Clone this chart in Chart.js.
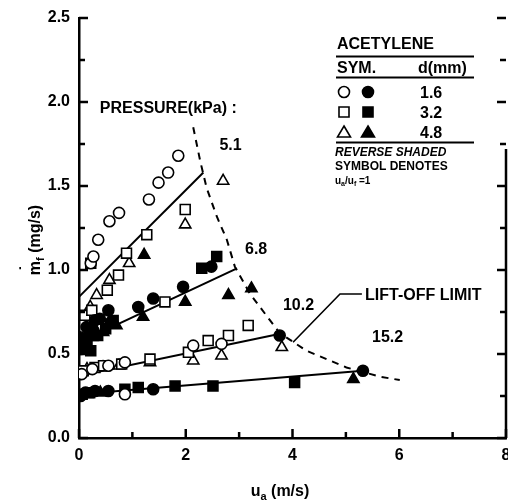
<!DOCTYPE html>
<html>
<head>
<meta charset="utf-8">
<script src="https://cdn.jsdelivr.net/npm/chart.js@4/dist/chart.umd.min.js"></script>
<style>
  html, body { margin: 0; padding: 0; background: #fff; }
  canvas { display: block; }
</style>
</head>
<body>
<canvas id="grafico" width="508" height="503"></canvas>
<script>
// ---------------------------------------------------------
// Dados (u_a em m/s, m_f em mg/s)
// ---------------------------------------------------------
const xTicks = [0, 2, 4, 6, 8];
const yTicks = [0.0, 0.5, 1.0, 1.5, 2.0, 2.5];

// d = 1.6 mm
const openCircles = [
  [0.22, 1.04], [0.27, 1.08], [0.36, 1.18], [0.57, 1.29], [0.75, 1.34],
  [1.31, 1.42], [1.49, 1.52], [1.67, 1.58], [1.86, 1.68],
  [0.05, 0.38], [0.25, 0.41], [0.55, 0.43], [0.86, 0.45], [2.14, 0.55], [2.67, 0.56],
  [0.86, 0.26]
];
const filledCircles = [
  [0.04, 0.53], [0.10, 0.58], [0.20, 0.62], [0.27, 0.64], [0.39, 0.71], [0.55, 0.76],
  [0.60, 0.69], [0.02, 0.60], [0.14, 0.66], [0.30, 0.70],
  [1.11, 0.78], [1.39, 0.83], [1.95, 0.90], [2.48, 1.02],
  [3.76, 0.61],
  [0.03, 0.25], [0.12, 0.27], [0.30, 0.28], [0.55, 0.28], [1.39, 0.29], [5.32, 0.40]
];
// d = 3.2 mm
const openSquares = [
  [0.11, 0.73], [0.24, 0.76], [0.22, 1.04], [0.53, 0.88], [0.74, 0.97], [0.89, 1.10],
  [1.27, 1.21], [1.99, 1.36],
  [1.61, 0.81],
  [0.08, 0.40], [0.30, 0.42], [0.46, 0.43], [0.80, 0.44], [1.33, 0.47], [2.05, 0.51],
  [2.42, 0.58], [2.80, 0.61], [3.17, 0.67]
];
const filledSquares = [
  [0.05, 0.55], [0.15, 0.57], [0.35, 0.61], [0.50, 0.65], [0.64, 0.70], [0.22, 0.52],
  [2.30, 1.01], [2.58, 1.08],
  [0.06, 0.26], [0.20, 0.27], [0.86, 0.29], [1.11, 0.30], [1.80, 0.31], [2.51, 0.31], [4.04, 0.33]
];
// d = 4.8 mm
const openTriangles = [
  [0.17, 0.73], [0.21, 0.78], [0.33, 0.85], [0.57, 0.94], [0.94, 1.04], [1.99, 1.27], [2.70, 1.53],
  [0.15, 0.41], [0.45, 0.42], [0.75, 0.43], [1.33, 0.45], [2.14, 0.46], [2.67, 0.49], [3.80, 0.54]
];
const filledTriangles = [
  [1.22, 1.09],
  [0.08, 0.55], [0.25, 0.60], [0.45, 0.63], [0.70, 0.67], [1.20, 0.72], [1.99, 0.81],
  [2.80, 0.85], [3.23, 0.89],
  [0.15, 0.26], [0.40, 0.27], [5.14, 0.35]
];

// retas de ajuste por pressao (kPa)
const fit51 = [[0, 0.84], [2.33, 1.58]];
const fit68 = [[0, 0.57], [2.96, 1.01]];
const fit102 = [[0, 0.37], [3.77, 0.62]];
const fit152 = [[0, 0.26], [5.32, 0.40]];

// limite de descolamento (tracejado)
const liftOffLimit = [
  [2.14, 1.85], [2.27, 1.65], [2.39, 1.49], [2.58, 1.32], [2.77, 1.18], [2.92, 1.02],
  [3.20, 0.86], [3.58, 0.70], [3.76, 0.625], [4.26, 0.52], [5.01, 0.42], [5.64, 0.365], [6.01, 0.345]
];
const leaderLine = [[4.01, 0.57], [4.89, 0.857], [5.30, 0.857]];

// ---------------------------------------------------------
// Configuracao
// ---------------------------------------------------------
const FONT = '"Liberation Sans", Arial, sans-serif';
Chart.defaults.font.family = FONT;
Chart.defaults.color = '#000';

const toPts = arr => arr.map(([x, y]) => ({ x, y }));

function pontos(arr, style, radius, filled) {
  return {
    data: toPts(arr),
    pointStyle: style,
    pointRadius: radius,
    pointHoverRadius: radius,
    pointBorderWidth: 1.6,
    pointBackgroundColor: filled ? '#000' : '#fff',
    pointBorderColor: '#000',
    showLine: false
  };
}

function linha(arr, width, dash) {
  return {
    data: toPts(arr),
    showLine: true,
    pointRadius: 0,
    borderColor: '#000',
    borderWidth: width,
    borderDash: dash || [],
    fill: false
  };
}

// desenha um simbolo pequeno (legenda)
function simbolo(ctx, tipo, x, y, filled) {
  ctx.save();
  ctx.lineWidth = 1.6;
  ctx.strokeStyle = '#000';
  ctx.fillStyle = filled ? '#000' : '#fff';
  ctx.beginPath();
  if (tipo === 'circle') {
    ctx.arc(x, y, 5.5, 0, Math.PI * 2);
  } else if (tipo === 'rect') {
    ctx.rect(x - 5, y - 5, 10, 10);
  } else {
    ctx.moveTo(x, y - 6);
    ctx.lineTo(x + 6.5, y + 5);
    ctx.lineTo(x - 6.5, y + 5);
    ctx.closePath();
  }
  ctx.fill();
  ctx.stroke();
  ctx.restore();
}

// texto com partes em subscrito
function textoPartes(ctx, partes) {
  let w = 0;
  partes.forEach(p => {
    ctx.font = `bold ${p.size}px ${FONT}`;
    p.w = ctx.measureText(p.t).width;
    w += p.w;
  });
  return w;
}
function desenhaPartes(ctx, partes, x, y) {
  let cx = x;
  partes.forEach(p => {
    ctx.font = `${p.italic ? 'italic ' : ''}bold ${p.size}px ${FONT}`;
    ctx.fillText(p.t, cx, y + (p.dy || 0));
    if (p.dot) {
      ctx.fillText('\u02D9', cx + p.w / 2 - ctx.measureText('\u02D9').width / 2, y - 9);
    }
    cx += p.w;
  });
}

const decoracao = {
  id: 'decoracao',
  afterDraw(chart) {
    const { ctx, chartArea: a } = chart;
    const sx = chart.scales.x, sy = chart.scales.y;
    ctx.save();
    ctx.strokeStyle = '#000';
    ctx.fillStyle = '#000';

    // borda direita (parcial, como no original)
    ctx.lineWidth = 2.5;
    ctx.beginPath();
    ctx.moveTo(a.right, a.bottom);
    ctx.lineTo(a.right, sy.getPixelForValue(1.72));
    ctx.stroke();

    // marcas internas dos eixos
    ctx.lineWidth = 2.5;
    for (let v = 0; v <= 8; v += 1) {
      const px = sx.getPixelForValue(v);
      const len = v % 2 === 0 ? 9 : 6;
      ctx.beginPath();
      ctx.moveTo(px, a.bottom);
      ctx.lineTo(px, a.bottom - len);
      ctx.stroke();
    }
    for (let i = 0; i <= 10; i++) {
      const v = i * 0.25;
      const py = sy.getPixelForValue(v);
      const len = i % 2 === 0 ? 9 : 6;
      ctx.beginPath();
      ctx.moveTo(a.left, py);
      ctx.lineTo(a.left + len, py);
      ctx.moveTo(a.right, py);
      ctx.lineTo(a.right - len, py);
      ctx.stroke();
    }

    // rotulos de pressao
    ctx.textBaseline = 'middle';
    ctx.textAlign = 'left';
    ctx.font = `bold 16px ${FONT}`;
    const rotulos = [
      ['PRESSURE(kPa) :', 0.39, 1.96],
      ['5.1', 2.63, 1.74],
      ['6.8', 3.11, 1.12],
      ['10.2', 3.82, 0.79],
      ['15.2', 5.49, 0.60],
      ['LIFT-OFF LIMIT', 5.36, 0.845]
    ];
    rotulos.forEach(([t, x, y]) => {
      ctx.fillText(t, sx.getPixelForValue(x), sy.getPixelForValue(y));
    });

    // legenda
    ctx.textBaseline = 'alphabetic';
    ctx.font = `bold 16px ${FONT}`;
    ctx.fillText('ACETYLENE', 337, 49);
    ctx.fillText('SYM.', 337, 73);
    ctx.fillText('d(mm)', 418, 73);
    ctx.lineWidth = 2;
    [56.5, 77.5, 142.5].forEach(y => {
      ctx.beginPath();
      ctx.moveTo(336, y);
      ctx.lineTo(474, y);
      ctx.stroke();
    });
    const linhasLegenda = [['circle', '1.6', 92], ['rect', '3.2', 112], ['triangle', '4.8', 132]];
    linhasLegenda.forEach(([tipo, d, y]) => {
      simbolo(ctx, tipo, 344, y, false);
      simbolo(ctx, tipo, 368, y, true);
      ctx.font = `bold 16px ${FONT}`;
      ctx.fillText(d, 420, y + 6);
    });
    ctx.font = `italic bold 12px ${FONT}`;
    ctx.fillText('REVERSE SHADED', 335, 156);
    ctx.font = `bold 12px ${FONT}`;
    ctx.fillText('SYMBOL DENOTES', 335, 170);
    const razao = [
      { t: 'u', size: 10 }, { t: 'a', size: 7, dy: 2 },
      { t: '/u', size: 10 }, { t: 'f', size: 7, dy: 2 }, { t: ' =1', size: 10 }
    ];
    textoPartes(ctx, razao);
    desenhaPartes(ctx, razao, 335, 184);

    // titulo do eixo x
    const tx = [{ t: 'u', size: 16 }, { t: 'a', size: 11, dy: 4 }, { t: ' (m/s)', size: 16 }];
    const wx = textoPartes(ctx, tx);
    desenhaPartes(ctx, tx, 280 - wx / 2, 496);

    // titulo do eixo y (rotacionado)
    const ty = [{ t: 'm', size: 16, dot: true }, { t: 'f', size: 11, dy: 4 }, { t: ' (mg/s)', size: 16 }];
    const wy = textoPartes(ctx, ty);
    ctx.translate(40, 240);
    ctx.rotate(-Math.PI / 2);
    desenhaPartes(ctx, ty, -wy / 2, 0);

    ctx.restore();
  }
};

new Chart(document.getElementById('grafico'), {
  type: 'scatter',
  data: {
    datasets: [
      pontos(openCircles, 'circle', 5.5, false),
      pontos(filledCircles, 'circle', 5.5, true),
      pontos(openSquares, 'rect', 7, false),
      pontos(filledSquares, 'rect', 7, true),
      pontos(openTriangles, 'triangle', 6.5, false),
      pontos(filledTriangles, 'triangle', 6.5, true),
      linha(fit51, 2),
      linha(fit68, 2),
      linha(fit102, 2),
      linha(fit152, 2),
      linha(liftOffLimit, 2, [7, 6]),
      linha(leaderLine, 1.6)
    ]
  },
  options: {
    responsive: false,
    animation: false,
    layout: { autoPadding: false, padding: { left: 0, right: 2, top: 18, bottom: 0 } },
    plugins: {
      legend: { display: false },
      tooltip: { enabled: false }
    },
    scales: {
      x: {
        type: 'linear',
        min: 0,
        max: 8,
        afterBuildTicks: s => { s.ticks = xTicks.map(v => ({ value: v })); },
        ticks: {
          color: '#000',
          font: { size: 16, weight: 'bold' },
          padding: 8,
          maxRotation: 0,
          callback: v => String(v)
        },
        grid: { display: false, drawTicks: false },
        border: { display: true, color: '#000', width: 2.5 },
        afterFit: s => { s.height = 65; s.paddingLeft = 0; s.paddingRight = 0; }
      },
      y: {
        type: 'linear',
        min: 0,
        max: 2.5,
        afterBuildTicks: s => { s.ticks = yTicks.map(v => ({ value: v })); },
        ticks: {
          color: '#000',
          font: { size: 16, weight: 'bold' },
          padding: 9,
          callback: v => v.toFixed(1)
        },
        grid: { display: false, drawTicks: false },
        border: { display: true, color: '#000', width: 2.5 },
        afterFit: s => { s.width = 79; s.paddingTop = 0; s.paddingBottom = 0; }
      }
    }
  },
  plugins: [decoracao]
});
</script>
</body>
</html>
